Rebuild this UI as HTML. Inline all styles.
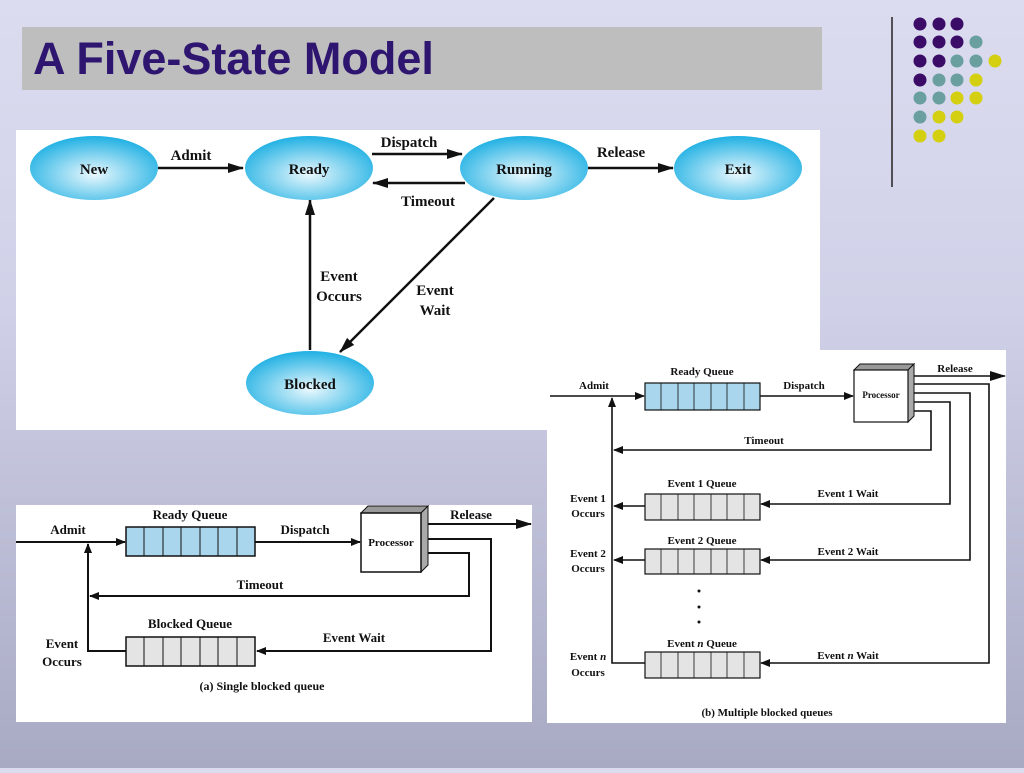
<!DOCTYPE html>
<html><head><meta charset="utf-8"><style>
html,body{margin:0;padding:0}
body{width:1024px;height:768px;overflow:hidden;background:linear-gradient(#dcdcf0,#d0d1e8 40%,#a8a9c3);font-family:"Liberation Serif",serif}
svg text{font-family:"Liberation Serif",serif;font-weight:bold;fill:#111}
</style></head><body>
<svg width="1024" height="768" viewBox="0 0 1024 768" xmlns="http://www.w3.org/2000/svg">
<defs>
<radialGradient id="eg" cx="0.5" cy="0.6" r="0.6">
<stop offset="0" stop-color="#eaf8fd"/><stop offset="1" stop-color="#1fb0e3"/>
</radialGradient>
<marker id="a" markerWidth="10" markerHeight="8" refX="9" refY="4" orient="auto" markerUnits="userSpaceOnUse"><path d="M0,0 L10,4 L0,8 z" fill="#111"/></marker>
<marker id="b" markerWidth="16" markerHeight="10" refX="15" refY="5" orient="auto" markerUnits="userSpaceOnUse"><path d="M0,0 L16,5 L0,10 z" fill="#111"/></marker>
</defs>
<rect x="22" y="27" width="800" height="63" fill="#bebebe"/>
<text x="33" y="74" style="font-family:'Liberation Sans',sans-serif;font-size:45px;fill:#2e1670">A Five-State Model</text>
<line x1="892" y1="17" x2="892" y2="187" stroke="#222" stroke-width="1.5"/>
<g>
<circle cx="920" cy="24" r="6.5" fill="#3b0b68"/><circle cx="939" cy="24" r="6.5" fill="#3b0b68"/><circle cx="957" cy="24" r="6.5" fill="#3b0b68"/>
<circle cx="920" cy="42" r="6.5" fill="#3b0b68"/><circle cx="939" cy="42" r="6.5" fill="#3b0b68"/><circle cx="957" cy="42" r="6.5" fill="#3b0b68"/><circle cx="976" cy="42" r="6.5" fill="#6a9fa0"/>
<circle cx="920" cy="61" r="6.5" fill="#3b0b68"/><circle cx="939" cy="61" r="6.5" fill="#3b0b68"/><circle cx="957" cy="61" r="6.5" fill="#6a9fa0"/><circle cx="976" cy="61" r="6.5" fill="#6a9fa0"/><circle cx="995" cy="61" r="6.5" fill="#d4cf10"/>
<circle cx="920" cy="80" r="6.5" fill="#3b0b68"/><circle cx="939" cy="80" r="6.5" fill="#6a9fa0"/><circle cx="957" cy="80" r="6.5" fill="#6a9fa0"/><circle cx="976" cy="80" r="6.5" fill="#d4cf10"/>
<circle cx="920" cy="98" r="6.5" fill="#6a9fa0"/><circle cx="939" cy="98" r="6.5" fill="#6a9fa0"/><circle cx="957" cy="98" r="6.5" fill="#d4cf10"/><circle cx="976" cy="98" r="6.5" fill="#d4cf10"/>
<circle cx="920" cy="117" r="6.5" fill="#6a9fa0"/><circle cx="939" cy="117" r="6.5" fill="#d4cf10"/><circle cx="957" cy="117" r="6.5" fill="#d4cf10"/>
<circle cx="920" cy="136" r="6.5" fill="#d4cf10"/><circle cx="939" cy="136" r="6.5" fill="#d4cf10"/>
</g>

<rect x="16" y="130" width="804" height="300" fill="#fff"/>
<g stroke="#111" stroke-width="2.5" fill="none">
<line x1="158" y1="168" x2="243" y2="168" marker-end="url(#b)"/>
<line x1="372" y1="154" x2="462" y2="154" marker-end="url(#b)"/>
<line x1="465" y1="183" x2="373" y2="183" marker-end="url(#b)"/>
<line x1="588" y1="168" x2="673" y2="168" marker-end="url(#b)"/>
<line x1="310" y1="350" x2="310" y2="200" marker-end="url(#b)"/>
<line x1="494" y1="198" x2="340" y2="352" marker-end="url(#b)"/>
</g>
<ellipse cx="94" cy="168" rx="64" ry="32" fill="url(#eg)"/>
<ellipse cx="309" cy="168" rx="64" ry="32" fill="url(#eg)"/>
<ellipse cx="524" cy="168" rx="64" ry="32" fill="url(#eg)"/>
<ellipse cx="738" cy="168" rx="64" ry="32" fill="url(#eg)"/>
<ellipse cx="310" cy="383" rx="64" ry="32" fill="url(#eg)"/>
<g font-size="15" text-anchor="middle">
<text x="94" y="174">New</text><text x="309" y="174">Ready</text><text x="524" y="174">Running</text><text x="738" y="174">Exit</text><text x="310" y="389">Blocked</text>
<text x="191" y="160">Admit</text><text x="409" y="147">Dispatch</text><text x="428" y="206">Timeout</text><text x="621" y="157">Release</text>
<text x="339" y="281">Event</text><text x="339" y="301">Occurs</text>
<text x="435" y="295">Event</text><text x="435" y="315">Wait</text>
</g>

<rect x="16" y="505" width="516" height="217" fill="#fff"/>
<g stroke="#111" stroke-width="2" fill="none">
<line x1="16" y1="542" x2="125" y2="542" marker-end="url(#a)"/>
<line x1="255" y1="542" x2="360" y2="542" marker-end="url(#a)"/>
<line x1="428" y1="524" x2="531" y2="524" marker-end="url(#b)"/>
<polyline points="428,553 469,553 469,596 90,596" marker-end="url(#a)"/>
<polyline points="428,539 491,539 491,651 257,651" marker-end="url(#a)"/>
<polyline points="126,651 88,651 88,544" marker-end="url(#a)"/>
</g>
<rect x="126" y="527" width="129" height="29" fill="#a9d6ec" stroke="#111" stroke-width="1.5"/>
<g stroke="#111" stroke-width="1"><line x1="144" y1="527" x2="144" y2="556"/><line x1="163" y1="527" x2="163" y2="556"/><line x1="181" y1="527" x2="181" y2="556"/><line x1="200" y1="527" x2="200" y2="556"/><line x1="218" y1="527" x2="218" y2="556"/><line x1="237" y1="527" x2="237" y2="556"/></g>
<rect x="126" y="637" width="129" height="29" fill="#e4e4e4" stroke="#111" stroke-width="1.5"/>
<g stroke="#111" stroke-width="1"><line x1="144" y1="637" x2="144" y2="666"/><line x1="163" y1="637" x2="163" y2="666"/><line x1="181" y1="637" x2="181" y2="666"/><line x1="200" y1="637" x2="200" y2="666"/><line x1="218" y1="637" x2="218" y2="666"/><line x1="237" y1="637" x2="237" y2="666"/></g>
<polygon points="361,513 368,506 428,506 421,513" fill="#999" stroke="#111"/>
<polygon points="421,513 428,506 428,565 421,572" fill="#aaa" stroke="#111"/>
<rect x="361" y="513" width="60" height="59" fill="#fff" stroke="#111" stroke-width="1.5"/>
<g font-size="13" text-anchor="middle">
<text x="391" y="546" font-size="11">Processor</text>
<text x="68" y="534">Admit</text><text x="190" y="519">Ready Queue</text><text x="305" y="534">Dispatch</text><text x="471" y="519">Release</text>
<text x="260" y="589">Timeout</text><text x="190" y="628">Blocked Queue</text><text x="354" y="642">Event Wait</text>
<text x="62" y="648">Event</text><text x="62" y="666">Occurs</text>
<text x="262" y="690" font-size="12">(a) Single blocked queue</text>
</g>

<rect x="547" y="350" width="459" height="373" fill="#fff"/>
<g stroke="#111" stroke-width="1.6" fill="none">
<line x1="550" y1="396" x2="644" y2="396" marker-end="url(#a)"/>
<line x1="760" y1="396" x2="853" y2="396" marker-end="url(#a)"/>
<line x1="914" y1="376" x2="1005" y2="376" marker-end="url(#b)"/>
<polyline points="914,384 989,384 989,663 761,663" marker-end="url(#a)"/>
<polyline points="914,393 970,393 970,560 761,560" marker-end="url(#a)"/>
<polyline points="914,402 950,402 950,504 761,504" marker-end="url(#a)"/>
<polyline points="914,411 931,411 931,450 614,450" marker-end="url(#a)"/>
<polyline points="645,663 612,663 612,398" marker-end="url(#a)"/>
<line x1="645" y1="506" x2="614" y2="506" marker-end="url(#a)"/>
<line x1="645" y1="560" x2="614" y2="560" marker-end="url(#a)"/>
</g>
<g stroke="#111" stroke-width="1.2">
<rect x="645" y="383" width="115" height="27" fill="#a9d6ec"/>
<rect x="645" y="494" width="115" height="26" fill="#e4e4e4"/>
<rect x="645" y="549" width="115" height="25" fill="#e4e4e4"/>
<rect x="645" y="652" width="115" height="26" fill="#e4e4e4"/>
</g>
<g stroke="#111" stroke-width="0.8">
<path d="M661,383v27M678,383v27M694,383v27M711,383v27M727,383v27M744,383v27"/>
<path d="M661,494v26M678,494v26M694,494v26M711,494v26M727,494v26M744,494v26"/>
<path d="M661,549v25M678,549v25M694,549v25M711,549v25M727,549v25M744,549v25"/>
<path d="M661,652v26M678,652v26M694,652v26M711,652v26M727,652v26M744,652v26"/>
</g>
<circle cx="699" cy="591" r="1.5" fill="#111"/><circle cx="699" cy="607" r="1.5" fill="#111"/><circle cx="699" cy="622" r="1.5" fill="#111"/>
<polygon points="854,370 860,364 914,364 908,370" fill="#999" stroke="#111"/>
<polygon points="908,370 914,364 914,416 908,422" fill="#aaa" stroke="#111"/>
<rect x="854" y="370" width="54" height="52" fill="#fff" stroke="#111" stroke-width="1.2"/>
<g font-size="11" text-anchor="middle">
<text x="881" y="398" font-size="9">Processor</text>
<text x="594" y="389">Admit</text><text x="702" y="375">Ready Queue</text><text x="804" y="389">Dispatch</text><text x="955" y="372">Release</text>
<text x="764" y="444">Timeout</text>
<text x="702" y="487">Event 1 Queue</text><text x="702" y="544">Event 2 Queue</text><text x="702" y="647">Event <tspan font-style="italic">n</tspan> Queue</text>
<text x="848" y="497">Event 1 Wait</text><text x="848" y="555">Event 2 Wait</text><text x="848" y="659">Event <tspan font-style="italic">n</tspan> Wait</text>
<text x="588" y="502">Event 1</text><text x="588" y="517">Occurs</text>
<text x="588" y="557">Event 2</text><text x="588" y="572">Occurs</text>
<text x="588" y="660">Event <tspan font-style="italic">n</tspan></text><text x="588" y="676">Occurs</text>
<text x="767" y="716">(b) Multiple blocked queues</text>
</g>
</svg>
</body></html>
